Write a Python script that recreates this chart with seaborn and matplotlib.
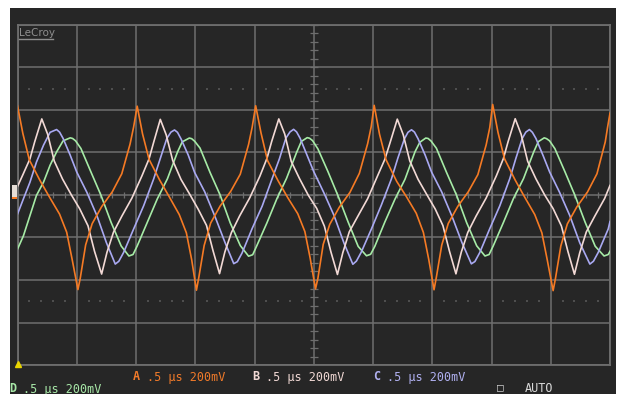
"""
LeCroy scope screen: four 1 MHz channels, 0.5 us/div, 200 mV/div.
Writes: out.png
"""
import matplotlib.pyplot as plt
import numpy as np
import pandas as pd
import seaborn as sns
from matplotlib.patches import Rectangle

# ---- trace samples (time in us, level in mV) ----
A_T = [0.00, 0.045, 0.10, 0.19, 0.27, 0.355, 0.415, 0.46, 0.51,
       0.53, 0.575, 0.63, 0.71, 0.80, 0.88, 0.95, 0.98, 1.01,
       1.055, 1.11, 1.20, 1.28, 1.365, 1.425, 1.47, 1.51,
       1.53, 1.575, 1.63, 1.71, 1.80, 1.88, 1.95, 1.98, 2.01,
       2.055, 2.11, 2.20, 2.28, 2.365, 2.425, 2.47, 2.515,
       2.535, 2.58, 2.635, 2.715, 2.805, 2.885, 2.955, 2.985, 3.01,
       3.055, 3.11, 3.20, 3.28, 3.365, 3.425, 3.47, 3.515,
       3.535, 3.58, 3.635, 3.715, 3.805, 3.885, 3.955, 3.985, 4.01,
       4.055, 4.11, 4.20, 4.28, 4.365, 4.425, 4.47, 4.52,
       4.54, 4.585, 4.64, 4.72, 4.81, 4.89, 4.96, 4.98, 5.00]
A_MV = [420, 290, 165, 68, -10, -90, -175, -300, -445,
        -390, -235, -135, -55, 15, 100, 240, 320, 418,
        288, 168, 70, -8, -92, -178, -305, -448,
        -388, -238, -132, -52, 18, 98, 238, 318, 420,
        292, 162, 66, -12, -88, -172, -298, -442,
        -392, -232, -138, -58, 12, 102, 242, 322, 422,
        286, 166, 64, -6, -86, -176, -302, -446,
        -386, -236, -134, -54, 16, 96, 236, 316, 426,
        294, 170, 70, -10, -92, -178, -304, -450,
        -392, -240, -136, -56, 14, 100, 250, 320, 385]

B_T = [0.00, 0.045, 0.105, 0.145, 0.205,
       0.255, 0.31, 0.38, 0.455, 0.525, 0.595, 0.65, 0.71,
       0.755, 0.81, 0.88, 0.965, 1.05, 1.11, 1.15, 1.205,
       1.255, 1.31, 1.38, 1.455, 1.525, 1.595, 1.65, 1.705,
       1.75, 1.805, 1.875, 1.96, 2.045, 2.105, 2.145, 2.205,
       2.255, 2.31, 2.38, 2.455, 2.525, 2.59, 2.645, 2.70,
       2.745, 2.80, 2.87, 2.955, 3.04, 3.10, 3.145, 3.205,
       3.255, 3.31, 3.38, 3.455, 3.525, 3.59, 3.645, 3.70,
       3.745, 3.80, 3.87, 3.955, 4.04, 4.10, 4.14, 4.20,
       4.25, 4.305, 4.375, 4.45, 4.52, 4.59, 4.645, 4.70,
       4.745, 4.80, 4.87, 4.955, 5.00]
B_MV = [40, 95, 170, 250, 358,
        285, 160, 75, 0, -65, -145, -265, -372,
        -270, -175, -100, -15, 90, 170, 250, 356,
        283, 162, 73, 2, -67, -143, -262, -370,
        -268, -177, -98, -13, 88, 172, 252, 358,
        287, 158, 77, -2, -63, -147, -268, -374,
        -272, -173, -102, -17, 92, 168, 248, 357,
        284, 161, 74, 1, -66, -144, -264, -371,
        -269, -176, -99, -14, 89, 171, 251, 359,
        286, 159, 76, -1, -64, -146, -266, -373,
        -271, -174, -101, -16, 45]

C_T = [0.00, 0.05, 0.105, 0.16, 0.22, 0.275, 0.33,
       0.355, 0.385, 0.445, 0.50, 0.585, 0.67, 0.75, 0.825,
       0.855, 0.895, 0.98, 1.065, 1.15, 1.205, 1.26, 1.295, 1.325,
       1.35, 1.38, 1.44, 1.495, 1.58, 1.665, 1.75, 1.825,
       1.855, 1.895, 1.98, 2.065, 2.15, 2.21, 2.265, 2.30, 2.33,
       2.355, 2.385, 2.445, 2.50, 2.585, 2.67, 2.755, 2.83,
       2.86, 2.90, 2.985, 3.07, 3.155, 3.21, 3.265, 3.295, 3.325,
       3.35, 3.38, 3.44, 3.495, 3.58, 3.665, 3.75, 3.83,
       3.86, 3.90, 3.985, 4.07, 4.155, 4.205, 4.26, 4.29, 4.32,
       4.345, 4.375, 4.435, 4.49, 4.575, 4.66, 4.745, 4.83,
       4.86, 4.90, 4.985, 5.00]
C_MV = [-90, -18, 60, 155, 235, 295, 308,
        296, 266, 187, 108, 13, -97, -224, -325,
        -312, -271, -160, -50, 77, 172, 266, 296, 306,
        295, 264, 189, 106, 15, -99, -222, -323,
        -314, -273, -158, -52, 79, 170, 268, 297, 309,
        297, 267, 185, 110, 11, -95, -226, -326,
        -311, -270, -162, -48, 75, 174, 264, 295, 307,
        296, 265, 188, 107, 14, -98, -223, -324,
        -313, -272, -159, -51, 78, 171, 267, 296, 308,
        295, 266, 186, 109, 12, -96, -225, -325,
        -312, -271, -160, -125]

D_T = [0.00, 0.05, 0.105, 0.16, 0.22, 0.275, 0.33, 0.385, 0.445,
       0.465, 0.49, 0.535, 0.62, 0.705, 0.79, 0.875, 0.94,
       0.975, 1.01, 1.095, 1.18, 1.265, 1.35, 1.39, 1.45,
       1.47, 1.495, 1.54, 1.625, 1.71, 1.795, 1.88, 1.95,
       1.985, 2.02, 2.105, 2.19, 2.27, 2.355, 2.395, 2.445,
       2.465, 2.49, 2.535, 2.62, 2.705, 2.79, 2.875, 2.945,
       2.98, 3.015, 3.10, 3.185, 3.27, 3.355, 3.395, 3.445,
       3.465, 3.49, 3.535, 3.62, 3.705, 3.79, 3.875, 3.945,
       3.98, 4.015, 4.10, 4.185, 4.27, 4.355, 4.395, 4.445,
       4.465, 4.49, 4.535, 4.62, 4.705, 4.79, 4.875, 4.95,
       4.985, 5.00]
D_MV = [-255, -192, -97, -2, 61, 140, 203, 255, 269,
        266, 255, 219, 108, -2, -129, -240, -287,
        -280, -240, -129, -18, 76, 202, 250, 268,
        265, 253, 221, 106, 0, -131, -238, -288,
        -281, -238, -131, -16, 78, 200, 252, 270,
        267, 256, 217, 110, -4, -127, -242, -286,
        -279, -242, -127, -20, 74, 204, 248, 268,
        266, 254, 220, 107, -1, -130, -239, -287,
        -280, -239, -130, -17, 77, 201, 251, 269,
        265, 255, 218, 109, -3, -128, -241, -287,
        -280, -265]

CHANNELS = ["A", "B", "C", "D"]
CH_LABELS = ["A .5 \u00b5s 200mV", "B .5 \u00b5s 200mV",
             "C .5 \u00b5s 200mV", "D .5 \u00b5s 200mV"]
T_DIV = 0.5      # us per division
V_DIV = 200      # mV per division

BG = "#262626"
GRID = "#6e6e6e"
COLORS = {"A": "#f57a24", "B": "#f2d9d5", "C": "#a9a9f2", "D": "#a6eba6"}
TEXT_COLORS = {"A": "#f07a2a", "B": "#f0d8d4", "C": "#b0b0f0", "D": "#a8e8a8"}

W, H = 619, 394


def px(x, y):
    """pixel (from top-left) -> figure fraction"""
    return x / W, 1 - y / H


def main():
    frames = []
    for ch, t, v in [("A", A_T, A_MV), ("B", B_T, B_MV),
                     ("C", C_T, C_MV), ("D", D_T, D_MV)]:
        frames.append(pd.DataFrame({"t": t, "mV": v, "ch": ch}))
    df = pd.concat(frames, ignore_index=True)

    fig = plt.figure(figsize=(W / 100, H / 100), dpi=100)
    fig.patch.set_facecolor("white")
    fig.add_artist(Rectangle(px(10, H), 606 / W, (H - 8) / H,
                             transform=fig.transFigure, facecolor=BG,
                             edgecolor="none", zorder=0))

    l, b = px(17.5, 365)
    ax = fig.add_axes([l, b, 592.5 / W, 340 / H])
    ax.set_facecolor(BG)

    sns.lineplot(data=df, x="t", y="mV", hue="ch",
                 hue_order=["D", "C", "B", "A"], palette=COLORS,
                 estimator=None, sort=False, legend=False,
                 linewidth=1.2, ax=ax, zorder=3)

    ax.set_xlim(0, 10 * T_DIV)
    ax.set_ylim(-4 * V_DIV, 4 * V_DIV)
    ax.set_xticks(np.arange(0, 10 * T_DIV + 0.01, T_DIV))
    ax.set_yticks(np.arange(-4 * V_DIV, 4 * V_DIV + 1, V_DIV))
    ax.set_axisbelow(True)
    ax.grid(True, color=GRID, linewidth=1.1)
    ax.tick_params(length=0, labelbottom=False, labelleft=False)
    ax.set_xlabel("")
    ax.set_ylabel("")
    for s in ax.spines.values():
        s.set_color(GRID)
        s.set_linewidth(1.3)

    # centre-axis minor ticks (5 per division)
    ax.hlines(np.arange(-4 * V_DIV, 4 * V_DIV + 1, V_DIV / 5),
              2.5 - 0.032, 2.5 + 0.032, color=GRID, lw=0.9, zorder=1)
    ax.vlines(np.arange(0, 5.001, T_DIV / 5), -15, 15,
              color=GRID, lw=0.9, zorder=1)

    # dotted rows at +-2.5 div
    dots = [x for x in np.arange(0.1, 5.0, T_DIV / 5)
            if abs(x / T_DIV - round(x / T_DIV)) > 1e-6]
    for yv in (2.5 * V_DIV, -2.5 * V_DIV):
        ax.scatter(dots, [yv] * len(dots), s=1.0, color="#4e4e4e",
                   marker="s", linewidths=0, zorder=1)

    # trigger marker
    ax.plot([0], [-4 * V_DIV + 6], marker="^", color="#e8d400",
            markersize=4.5, clip_on=False, zorder=5)

    # channel level marker on the left edge
    fig.add_artist(Rectangle(px(11.5, 197), 5 / W, 12 / H,
                             transform=fig.transFigure, facecolor="#e6ddd6",
                             edgecolor="none", zorder=4))
    fig.add_artist(Rectangle(px(11.5, 199), 5 / W, 2 / H,
                             transform=fig.transFigure, facecolor="#f57a24",
                             edgecolor="none", zorder=4))

    # LeCroy logo
    x0, y0 = px(19, 33)
    fig.text(x0, y0, "LeCroy", color="#8e8e8e", fontsize=7.5,
             va="center", ha="left", family="DejaVu Sans")
    fig.add_artist(plt.Line2D([19 / W, 53 / W], [1 - 39 / H, 1 - 39 / H],
                              transform=fig.transFigure, color="#8e8e8e",
                              lw=1.0))

    # channel readouts
    spots = {"A": (133, 377), "B": (252, 377), "C": (373, 377), "D": (9, 389)}
    for ch, lab in zip(CHANNELS, CH_LABELS):
        x, y = px(*spots[ch])
        fig.text(x, y, lab[0], color=TEXT_COLORS[ch], fontsize=8.5,
                 fontweight="bold", va="center", ha="left",
                 family="DejaVu Sans Mono")
        fig.text(x + 14 / W, y, lab[2:], color=TEXT_COLORS[ch], fontsize=8.5,
                 va="center", ha="left", family="DejaVu Sans Mono")

    x, y = px(497, 387)
    fig.text(x, y, "\u25a1", color="#d0d0d0", fontsize=8,
             va="center", ha="left", family="DejaVu Sans Mono")
    x, y = px(525, 389)
    fig.text(x, y, "AUTO", color="#d8d8d8", fontsize=8.5,
             va="center", ha="left", family="DejaVu Sans Mono")

    fig.savefig("out.png", dpi=100)
    plt.close(fig)


if __name__ == "__main__":
    main()
